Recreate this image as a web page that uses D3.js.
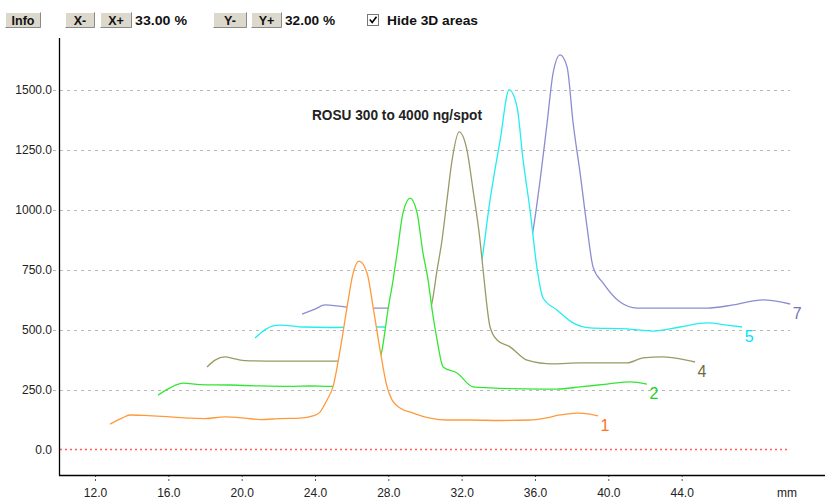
<!DOCTYPE html>
<html><head><meta charset="utf-8">
<script src="https://cdn.jsdelivr.net/npm/d3@7"></script>
<style>
body{margin:0;background:#fff;}
svg{display:block;}
text{font-family:"Liberation Sans",Arial,sans-serif;}
</style>
</head><body>
<svg id="c" width="825" height="503"></svg>
<script>
// ---- data ----
const xTicks = [12, 16, 20, 24, 28, 32, 36, 40, 44];
const yTicks = [0, 250, 500, 750, 1000, 1250, 1500];
const seriesNames = ["1", "2", "4", "5", "7"];
const title = "ROSU 300 to 4000 ng/spot";

const mm1 = [12.82,13.47,13.91,14.73,16.09,17.18,18.00,19.09,20.18,21.00,22.09,23.18,23.89,24.27,24.66,24.98,25.37,25.75,26.08,26.40,26.84,27.17,27.55,27.93,28.20,28.64,29.35,30.28,31.20,32.46,34.10,35.73,36.55,37.37,38.30,39.00,39.44];
const val1 = [106,131,144,142,136,131,129,136,131,125,129,131,140,156,207,261,415,594,736,786,736,594,415,261,207,173,152,131,123,123,121,123,131,144,152,148,140];

const mm2 = [15.44,16.09,16.80,17.73,19.36,21.00,22.64,23.73,24.82,25.91,26.73,27.22,27.66,27.98,28.26,28.48,28.80,29.19,29.57,29.89,30.17,30.39,30.66,30.99,31.75,32.62,33.55,36.28,37.20,38.46,39.93,41.19,42.11];
const val2 = [227,257,277,271,269,265,263,265,263,263,269,311,415,582,707,820,987,1049,987,820,707,582,457,344,319,261,257,252,252,261,273,282,273];

const mm4 = [18.11,18.55,19.09,19.64,20.18,22.09,25.26,27.55,28.91,29.62,30.11,30.39,30.66,30.93,31.20,31.48,31.86,32.29,32.62,33.00,33.17,33.55,33.93,34.64,35.57,36.99,38.46,39.93,41.02,41.90,42.99,43.91,44.73];
const val4 = [344,373,386,378,371,369,369,369,373,436,540,615,749,874,1041,1208,1325,1249,1083,874,749,511,457,428,373,357,361,361,361,382,386,378,365];

const mm5 = [20.73,21.27,21.66,22.09,23.35,24.82,26.46,27.82,30.28,32.19,32.68,33.11,33.55,34.10,34.59,35.02,35.35,35.73,36.11,36.44,37.20,38.08,39.00,41.02,42.44,43.91,45.39,46.48,47.30];
const val5 = [465,499,515,519,511,509,511,511,511,515,582,791,1041,1291,1500,1429,1208,999,757,632,582,528,507,503,494,511,528,519,511];

const mm7 = [23.29,24.00,24.55,25.20,25.75,27.17,28.09,31.37,34.64,35.19,35.57,35.90,36.28,36.66,36.99,37.37,37.75,38.08,38.46,38.84,39.17,39.71,40.64,41.57,43.53,45.39,46.81,48.44,49.92];
const val7 = [565,586,603,599,594,590,590,590,599,665,782,916,1124,1362,1571,1646,1596,1362,1154,928,761,695,615,590,590,590,603,624,607];

// ---- styles ----
const lineColors  = ["#ff9a3c", "#33e633", "#9a9a66", "#22eef0", "#8c8cd0"];
const labelColors = ["#ff7020", "#22d022", "#6b6b40", "#00e0f8", "#7272b8"];

(function () {
const svg = d3.select("#c");
const W = 825, H = 503;
const pL = 59, pR = 825, pT = 38, pB = 475;

const x = d3.scaleLinear().domain([10.036, 51.82]).range([pL, pR]);
const y = d3.scaleLinear().domain([-106.4, 1716.7]).range([pB, pT]);

const mmArr = [mm1, mm2, mm4, mm5, mm7];
const valArr = [val1, val2, val4, val5, val7];
const series = seriesNames.map((n, i) => ({
  name: n,
  pts: mmArr[i].map((m, k) => [m, valArr[i][k]]),
  color: lineColors[i], labelColor: labelColors[i]
}));

// ---- toolbar ----
function button(x0, y0, w, h, label) {
  const g = svg.append("g");
  g.append("rect").attr("x", x0).attr("y", y0).attr("width", w).attr("height", h).attr("fill", "#dcd8cc");
  g.append("path").attr("d", `M${x0+0.5},${y0+h-0.5}V${y0+0.5}H${x0+w-0.5}`).attr("stroke", "#fff").attr("fill", "none");
  g.append("path").attr("d", `M${x0+0.5},${y0+h-0.5}H${x0+w-0.5}V${y0+0.5}`).attr("stroke", "#8a8a8a").attr("fill", "none");
  g.append("text").attr("x", x0 + w / 2).attr("y", y0 + 13).attr("text-anchor", "middle")
    .attr("font-size", 12.5).attr("font-weight", "bold").attr("fill", "#111").text(label);
}
button(5, 12, 36, 16, "Info");
button(65, 12, 30, 16, "X-");
button(100, 12, 32, 16, "X+");
button(213, 12, 34, 16, "Y-");
button(251, 12, 31, 16, "Y+");
svg.append("text").attr("x", 135).attr("y", 25).attr("font-size", 12.5).attr("font-weight", "bold")
  .attr("fill", "#111").attr("textLength", 52).attr("lengthAdjust", "spacingAndGlyphs").text("33.00 %");
svg.append("text").attr("x", 285).attr("y", 25).attr("font-size", 12.5).attr("font-weight", "bold")
  .attr("fill", "#111").attr("textLength", 50).attr("lengthAdjust", "spacingAndGlyphs").text("32.00 %");
svg.append("rect").attr("x", 367.5).attr("y", 14.5).attr("width", 11).attr("height", 11)
  .attr("fill", "#fff").attr("stroke", "#777");
svg.append("path").attr("d", "M369.8,19.5 L372.2,22.5 L376.5,16.8").attr("stroke", "#000").attr("stroke-width", 1.6).attr("fill", "none");
svg.append("text").attr("x", 387).attr("y", 25).attr("font-size", 13).attr("font-weight", "bold")
  .attr("fill", "#111").attr("textLength", 91).attr("lengthAdjust", "spacingAndGlyphs").text("Hide 3D areas");

// ---- grid ----
const gridG = svg.append("g");
yTicks.forEach(v => {
  if (v === 0) return;
  gridG.append("line").attr("x1", 53).attr("x2", 790).attr("y1", Math.round(y(v)) + 0.5).attr("y2", Math.round(y(v)) + 0.5)
    .attr("stroke", "#b8b8b8").attr("stroke-dasharray", "3,4");
});
gridG.append("line").attr("x1", 60).attr("x2", 788).attr("y1", Math.round(y(0)) + 0.5).attr("y2", Math.round(y(0)) + 0.5)
  .attr("stroke", "#ff5a5a").attr("stroke-width", 1.6).attr("stroke-dasharray", "2,3");

// ---- axes ----
const yAxis = d3.axisLeft(y).tickValues(yTicks).tickFormat(d3.format(".1f")).tickSize(0).tickPadding(7);
const yg = svg.append("g").attr("transform", `translate(${pL},0)`).call(yAxis);
yg.select(".domain").remove();
yg.selectAll("text").attr("font-size", 12).attr("fill", "#222").style("font-family", "'Liberation Sans',Arial,sans-serif");

const xAxis = d3.axisBottom(x).tickValues(xTicks).tickFormat(d3.format(".1f")).tickSize(6).tickPadding(7);
const xg = svg.append("g").attr("transform", `translate(0,${pB})`).call(xAxis);
xg.select(".domain").remove();
xg.selectAll(".tick line").attr("stroke", "#555").attr("stroke-dasharray", "2,2");
xg.selectAll("text").attr("font-size", 12).attr("fill", "#222").style("font-family", "'Liberation Sans',Arial,sans-serif");
svg.append("text").attr("x", 787).attr("y", 497).attr("text-anchor", "middle").attr("font-size", 12)
  .attr("fill", "#222").text("mm");

svg.append("line").attr("x1", pL + 0.5).attr("x2", pL + 0.5).attr("y1", pT).attr("y2", pB + 0.5)
  .attr("stroke", "#000").attr("stroke-width", 1.3);
svg.append("line").attr("x1", pL).attr("x2", pR).attr("y1", pB + 0.5).attr("y2", pB + 0.5)
  .attr("stroke", "#000").attr("stroke-width", 1.3);

// ---- title ----
svg.append("text").attr("x", 312).attr("y", 120).attr("font-size", 14).attr("font-weight", "bold")
  .attr("fill", "#222").attr("textLength", 170).attr("lengthAdjust", "spacingAndGlyphs").text(title);

// ---- curves with hidden back parts ----
const line = d3.line().x(d => x(d[0])).y(d => y(d[1])).curve(d3.curveMonotoneX);
const area = d3.area().x(d => x(d[0])).y0(pB).y1(d => y(d[1])).curve(d3.curveMonotoneX);
const defs = svg.append("defs");
series.forEach((s, i) => {
  const m = defs.append("mask").attr("id", "m" + i).attr("maskUnits", "userSpaceOnUse")
    .attr("x", 0).attr("y", 0).attr("width", W).attr("height", H);
  m.append("rect").attr("x", 0).attr("y", 0).attr("width", W).attr("height", H).attr("fill", "#fff");
  for (let j = 0; j < i; j++) {
    m.append("path").attr("d", area(series[j].pts)).attr("fill", "#000");
  }
});
const curvesG = svg.append("g");
for (let i = series.length - 1; i >= 0; i--) {
  const s = series[i];
  curvesG.append("path").attr("d", line(s.pts)).attr("fill", "none").attr("stroke", s.color)
    .attr("stroke-width", 1.3).attr("mask", `url(#m${i})`);
  const last = s.pts[s.pts.length - 1];
  svg.append("text").attr("x", x(last[0]) + 2.5).attr("y", y(last[1]) + 15)
    .attr("font-size", 16).style("font-family", "'Liberation Sans Narrow','Arial Narrow','Liberation Sans',sans-serif")
    .attr("fill", s.labelColor).text(s.name);
}
})();
</script>
</body></html>
